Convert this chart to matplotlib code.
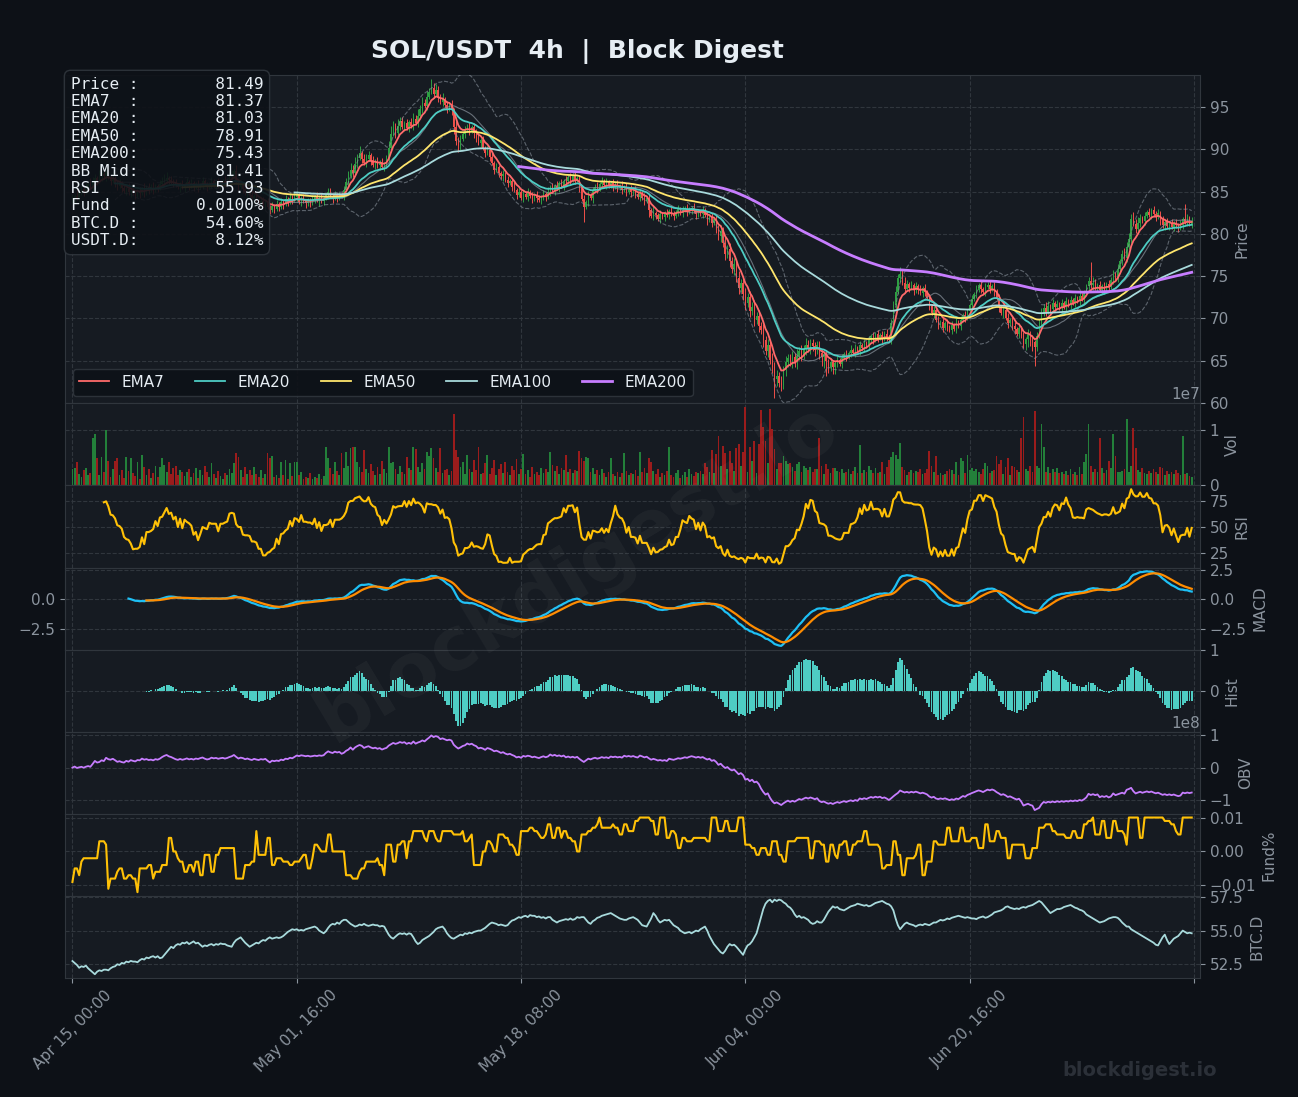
import numpy as np
import pandas as pd
import matplotlib
matplotlib.use("Agg")
import matplotlib.pyplot as plt
from matplotlib.lines import Line2D
from matplotlib.ticker import MultipleLocator

# SOL/USDT 4h candles from Apr 15
first_open = 83.9
close = [
    84.2, 84.5, 84.3, 84.9, 85.3, 85.0, 85.5, 85.9, 85.6, 86.2, 86.6, 86.3, 86.8, 87.1, 86.8, 87.3, 86.7, 86.3, 86.6, 86.0,
    85.7, 86.0, 85.4, 85.1, 85.3, 84.9, 85.1, 84.8, 84.6, 85.1, 84.8, 85.3, 84.9, 85.5, 85.2, 85.6, 85.2, 85.7, 85.4, 85.9,
    86.2, 86.3, 86.6, 86.4, 86.2, 86.0, 85.8, 85.5, 85.9, 85.5, 85.8, 86.1, 85.7, 86.0, 85.6, 85.9, 85.5, 85.8, 86.2, 85.9,
    85.6, 85.9, 86.2, 85.8, 86.1, 85.7, 86.0, 86.3, 86.0, 86.4, 86.7, 87.1, 87.4, 86.2, 85.6, 85.9, 85.3, 84.8, 85.1, 84.6,
    84.2, 84.5, 84.0, 83.6, 83.9, 83.4, 83.7, 83.2, 82.8, 83.3, 83.0, 83.5, 83.2, 83.8, 83.5, 84.1, 83.8, 84.3, 84.0, 84.4,
    84.6, 83.8, 84.2, 83.9, 83.6, 84.0, 83.7, 84.1, 84.4, 84.0, 84.3, 83.9, 84.2, 84.6, 84.9, 84.5, 84.2, 84.6, 84.3, 84.7,
    84.5, 85.2, 86.1, 86.9, 87.6, 87.2, 88.3, 89.0, 89.6, 88.9, 88.4, 88.9, 89.3, 88.7, 88.2, 88.6, 88.1, 88.5, 87.9, 88.3,
    88.8, 90.2, 91.8, 92.6, 91.9, 92.8, 93.3, 92.7, 93.1, 92.5, 93.2, 92.8, 93.6, 93.1, 94.0, 94.8, 95.5, 95.1, 96.2, 96.8,
    97.3, 96.6, 97.0, 96.1, 95.6, 95.9, 95.2, 94.8, 95.3, 94.6, 92.6, 91.0, 90.4, 91.2, 91.8, 92.3, 92.7, 92.2, 92.6, 91.9,
    91.4, 90.8, 91.1, 90.2, 89.6, 89.9, 89.1, 88.4, 87.6, 87.9, 87.2, 86.8, 87.1, 86.4, 86.0, 86.3, 85.6, 85.2, 84.6, 84.9,
    84.3, 84.7, 84.4, 84.9, 84.5, 84.1, 84.6, 84.3, 84.0, 84.3, 84.7, 84.4, 85.0, 85.5, 85.1, 85.7, 85.4, 86.0, 85.7, 86.3,
    86.2, 86.7, 86.4, 86.8, 86.4, 86.6, 85.4, 84.1, 83.2, 83.8, 84.6, 84.2, 85.1, 85.6, 85.3, 85.9, 86.2, 85.8, 86.1, 85.7,
    86.0, 85.6, 85.9, 85.4, 85.7, 85.2, 85.5, 85.0, 85.3, 84.9, 85.2, 84.7, 84.4, 84.8, 84.3, 83.9, 84.2, 82.8, 82.1, 82.5,
    82.2, 81.8, 82.3, 82.0, 82.5, 82.2, 82.7, 82.4, 82.1, 82.6, 82.9, 82.5, 82.8, 83.0, 82.6, 82.9, 83.1, 82.7, 82.3, 82.6,
    82.4, 82.8, 82.2, 81.6, 82.0, 81.3, 81.7, 80.6, 79.8, 80.3, 78.9, 77.6, 78.2, 76.8, 75.9, 76.4, 74.8, 73.6, 74.2, 72.9,
    71.8, 72.5, 70.9, 71.4, 69.8, 70.3, 69.1, 68.6, 67.4, 66.2, 66.8, 65.1, 64.3, 62.8, 63.2, 62.4, 62.1, 63.9, 64.8, 65.3,
    64.9, 65.4, 64.8, 65.6, 66.1, 65.7, 66.4, 66.9, 66.5, 67.1, 66.7, 66.3, 66.8, 65.9, 65.4, 65.8, 64.9, 64.3, 64.8, 64.2,
    64.7, 65.1, 64.6, 65.3, 65.8, 65.4, 65.9, 66.3, 65.9, 66.5, 66.2, 66.8, 66.5, 67.1, 66.8, 67.4, 67.9, 67.5, 68.1, 67.7,
    68.0, 67.6, 68.2, 67.8, 67.5, 69.4, 71.6, 73.1, 74.8, 75.3, 74.2, 73.5, 74.1, 73.6, 73.9, 73.3, 73.8, 73.4, 73.0, 73.6,
    73.1, 72.4, 71.5, 70.6, 71.0, 69.8, 69.2, 69.6, 68.9, 69.4, 69.0, 68.6, 69.2, 68.8, 69.5, 69.1, 69.8, 70.4, 70.1, 70.9,
    71.6, 72.3, 72.9, 73.4, 73.9, 73.5, 73.1, 73.7, 74.0, 73.5, 73.8, 73.2, 72.4, 71.3, 70.6, 71.0, 70.1, 69.4, 69.8, 69.1,
    68.7, 68.2, 68.9, 67.9, 67.0, 67.6, 68.2, 67.5, 67.2, 66.6, 67.9, 69.4, 70.5, 71.2, 70.8, 71.5, 71.1, 71.8, 71.4, 71.7,
    71.3, 71.8, 71.4, 72.0, 71.6, 72.2, 71.8, 72.4, 72.1, 72.7, 72.3, 72.9, 73.8, 74.4, 73.9, 74.2, 73.6, 73.9, 73.4, 73.8,
    73.5, 74.1, 73.7, 74.6, 75.2, 74.8, 75.9, 76.8, 77.6, 77.2, 78.5, 79.4, 81.8, 81.2, 80.6, 81.3, 81.9, 81.5, 82.1, 82.6,
    82.2, 82.8, 82.4, 82.0, 82.5, 81.6, 81.0, 81.4, 80.9, 81.2, 80.8, 81.3, 81.0, 80.7, 81.1, 81.8, 81.4, 81.9, 81.2, 81.49,
]
# wick above / below each candle body, one digit per candle, in quarters of a dollar
wick_up = (
    "21312121322131212131" "12121312112131212112" "23312121121212112121" "11211211212213121121"
    "21211212121212121212" "21121112121211221211" "12223232312221212121" "23432322121232323232"
    "42322312121322121212" "22121212121121211212" "12121212112121212121" "21212111212121212121"
    "12121212121212121213" "11211212112121211211" "12121212232323232323" "32323232323232323232"
    "23232323222222212121" "12121212121212121212" "12121223232321212121" "21212121212121212121"
    "12121212121212121212" "21212121212232321212" "12121212121212932121" "21212121232323232121"
    "21212121212121217212"
)
wick_dn = (
    "12121212121212121212" "21212121212121212121" "12121211212121212121" "21212121212121212121"
    "12122121212121212121" "21212121213121212121" "12121212121212121212" "21212121212121212121"
    "12121212123232121212" "21212121212121212121" "12121212121212121212" "21212121712121212121"
    "12121212121212121312" "21212121212121212121" "12121212232323232323" "32323232323239323232"
    "23232323232323457323" "32121212121212121212" "12121212121212121212" "21212121212121212121"
    "12121212121212121212" "21212343492121212121" "12121212121212121212" "21212121212121212121"
    "12121212121212121212"
)
# volume, millions
volume_m = [
    3.0, 3.2, 4.3, 2.0, 1.6, 2.8, 3.1, 1.9, 2.2, 8.6, 9.3, 5.0, 1.8, 5.2, 2.4, 10.0, 4.4, 1.5, 2.9, 4.4,
    4.9, 1.9, 2.8, 1.4, 5.2, 2.6, 4.9, 2.3, 1.7, 4.3, 1.1, 5.5, 3.4, 1.8, 2.9, 1.3, 2.2, 3.6, 1.6, 3.3,
    4.9, 3.7, 2.5, 4.3, 2.0, 3.2, 3.5, 1.9, 2.8, 2.5, 1.7, 2.5, 3.0, 1.6, 2.2, 3.1, 1.4, 2.7, 1.9, 3.6,
    2.4, 1.5, 4.0, 2.1, 1.3, 2.6, 1.7, 1.1, 2.2, 1.8, 3.0, 2.2, 4.0, 5.8, 5.1, 2.8, 1.5, 3.3, 2.1, 2.7,
    1.8, 3.4, 2.0, 1.5, 2.7, 1.3, 2.1, 5.8, 5.0, 5.4, 1.6, 1.9, 1.4, 4.3, 1.8, 4.6, 1.2, 4.0, 1.7, 4.3,
    4.3, 1.9, 2.5, 1.2, 1.6, 1.4, 2.2, 1.1, 1.5, 1.3, 2.0, 1.2, 1.7, 7.0, 4.9, 3.1, 2.0, 4.2, 2.6, 1.8,
    5.8, 3.1, 6.0, 3.6, 6.7, 7.0, 7.0, 4.2, 3.3, 2.5, 6.4, 3.0, 2.2, 3.8, 2.6, 1.9, 3.4, 2.1, 4.5, 2.9,
    2.2, 6.9, 4.0, 4.3, 2.9, 2.1, 3.5, 2.4, 2.0, 5.2, 3.1, 2.8, 7.0, 6.6, 3.4, 2.4, 4.1, 3.0, 6.1, 5.3,
    6.7, 5.0, 3.1, 2.5, 6.7, 2.2, 2.8, 3.0, 1.8, 2.6, 12.8, 6.4, 5.2, 3.4, 4.3, 2.1, 5.5, 3.0, 2.4, 4.6,
    2.8, 7.0, 2.0, 2.3, 4.0, 5.5, 2.1, 3.2, 4.6, 1.8, 2.9, 3.9, 2.2, 4.3, 2.5, 1.9, 3.6, 2.7, 4.8, 2.0,
    3.0, 5.6, 2.1, 2.8, 1.6, 3.3, 2.0, 2.5, 1.8, 3.1, 2.2, 2.9, 2.4, 6.0, 3.7, 2.6, 3.5, 2.0, 3.2, 2.7,
    5.5, 2.5, 3.0, 2.2, 2.8, 2.6, 6.2, 5.0, 4.4, 5.2, 4.9, 2.4, 3.1, 2.0, 2.7, 1.8, 2.9, 2.2, 1.6, 2.5,
    4.9, 2.0, 1.7, 2.4, 1.5, 2.2, 5.8, 2.6, 1.9, 2.3, 2.0, 2.8, 1.7, 6.0, 2.5, 3.1, 2.2, 5.0, 4.3, 2.6,
    2.1, 2.9, 1.6, 2.3, 1.8, 2.6, 7.0, 1.9, 1.5, 2.2, 2.7, 1.4, 1.8, 2.4, 1.6, 2.9, 2.0, 1.7, 2.5, 2.2,
    2.6, 2.0, 4.1, 3.4, 2.4, 6.4, 2.2, 5.6, 8.9, 3.5, 7.2, 5.9, 2.9, 6.3, 4.0, 2.6, 6.8, 7.4, 3.5, 6.0,
    14.1, 2.5, 7.0, 4.4, 8.0, 2.2, 7.5, 13.7, 10.5, 8.0, 4.0, 13.8, 10.2, 6.6, 2.9, 4.1, 4.0, 5.3, 4.4, 3.8,
    4.0, 3.4, 2.6, 3.9, 4.2, 2.5, 3.6, 3.1, 2.8, 3.3, 2.4, 2.9, 3.0, 8.5, 3.5, 2.1, 3.8, 3.0, 2.2, 3.1,
    3.2, 2.6, 2.4, 3.0, 2.2, 2.5, 2.9, 2.1, 2.6, 3.4, 2.3, 7.3, 2.2, 2.8, 2.4, 3.5, 2.7, 2.2, 3.1, 2.3,
    2.4, 4.3, 2.0, 3.4, 4.6, 5.2, 6.1, 5.5, 4.8, 7.6, 3.3, 2.8, 1.9, 2.5, 2.8, 2.2, 2.6, 2.4, 3.0, 2.1,
    2.2, 3.0, 6.3, 3.5, 2.5, 5.3, 1.8, 2.2, 1.8, 2.1, 2.6, 3.0, 2.7, 2.0, 4.2, 1.8, 5.0, 4.5, 2.3, 5.5,
    2.7, 3.2, 2.6, 3.0, 2.4, 2.1, 2.9, 4.0, 3.5, 2.2, 2.6, 2.8, 5.3, 3.9, 4.6, 2.1, 3.4, 5.0, 1.9, 3.6,
    3.3, 2.8, 2.4, 8.6, 12.3, 3.0, 2.6, 3.5, 2.4, 13.4, 3.5, 3.2, 11.0, 7.0, 2.5, 3.4, 2.2, 2.9, 2.4, 3.1,
    2.2, 2.4, 2.0, 2.6, 1.8, 3.0, 2.1, 2.5, 1.9, 3.3, 2.0, 4.2, 5.6, 11.0, 3.6, 2.5, 3.0, 2.4, 8.6, 3.2,
    2.3, 2.8, 4.5, 3.2, 9.2, 5.4, 2.5, 2.4, 2.6, 3.0, 11.9, 2.5, 3.5, 10.4, 6.8, 2.8, 2.4, 3.1, 2.2, 2.0,
    2.6, 2.2, 3.0, 2.5, 2.0, 3.4, 3.2, 1.9, 2.6, 2.1, 2.4, 2.0, 2.7, 2.2, 1.8, 9.0, 2.1, 2.3, 1.7, 1.6,
]
# funding rate, thousandths of a percent
funding_k = [
    -9, -5, -5, -7, -3, -2, -2, -2, -2, -2, -2, -2, 3, 3, 3, 2, -11, -8, -8, -8,
    -6, -5, -5, -8, -8, -7, -7, -8, -8, -12, -5, -5, -5, -5, -4, -4, -8, -6, -6, -6,
    -4, -4, -4, 4, 4, 0, 0, -2, -3, -3, -6, -6, -4, -4, -6, -3, -3, -7, -7, -1,
    -1, -1, -6, -6, -1, -1, 1, 1, 1, 1, 1, 1, 1, -8, -8, -8, -8, -4, -4, -4,
    -3, -3, 6, -1, -1, -1, -1, 4, 4, -4, -4, -2, -2, -2, -3, -3, -3, -4, -4, -3,
    -3, -3, -2, -1, -1, -5, -5, -2, 2, 2, 1, 0, 0, 0, 5, 5, 0, 0, 0, 0,
    0, 0, -7, -7, -7, -8, -8, -8, -6, -5, -5, -3, -3, -3, -3, -3, -2, -4, -4, -7,
    2, 2, 2, -3, -3, 2, 2, 3, 3, -2, 3, 3, 6, 6, 6, 6, 6, 4, 3, 6,
    6, 6, 4, 3, 3, 6, 6, 6, 6, 6, 5, 5, 5, 5, 6, 3, 3, 4, 5, -4,
    -4, -4, -4, 0, 0, 3, 3, 2, 0, 0, 5, 5, 5, 4, 4, 2, 2, 1, -1, -1,
    6, 6, 6, 6, 7, 7, 6, 6, 5, 4, 4, 5, 8, 8, 4, 4, 7, 7, 4, 6,
    6, 4, 4, 3, 3, 0, 0, 5, 5, 5, 6, 6, 7, 7, 8, 10, 7, 7, 7, 7,
    7, 8, 7, 7, 5, 5, 8, 8, 6, 6, 6, 9, 9, 10, 10, 10, 10, 10, 9, 9,
    5, 5, 10, 10, 10, 4, 4, 6, 6, 5, 1, 1, 4, 4, 3, 3, 3, 4, 4, 4,
    4, 4, 4, 3, 3, 10, 10, 10, 6, 6, 6, 9, 9, 6, 6, 6, 6, 10, 10, 10,
    2, 2, 2, 1, 1, -1, -1, 1, 1, 1, -1, -1, 3, 3, 3, -1, -1, -3, -3, 3,
    3, 3, 3, 4, 4, 4, 4, 4, 4, -2, -2, 3, 3, 3, 2, 2, -3, -3, 2, 2,
    -1, -2, 2, 2, 3, 3, -1, -1, 2, 2, 3, 3, 3, 6, 6, 2, 2, 2, 2, 2,
    1, -5, -5, -4, -4, -4, 3, 3, -1, -1, -7, -7, -2, -2, -2, -2, -1, 2, 2, -7,
    -7, -3, -3, -3, 3, 3, 2, 2, 2, 2, 7, 7, 3, 3, 3, 3, 7, 7, 3, 3,
    3, 4, 4, 4, 1, 1, 1, 8, 8, 3, 3, 3, 6, 6, 4, 4, 4, -2, -2, 2,
    2, 2, 2, 2, 2, -2, -2, -2, 1, 1, 1, 7, 7, 7, 8, 8, 8, 6, 6, 5,
    5, 5, 5, 4, 4, 4, 6, 6, 4, 4, 4, 8, 8, 9, 9, 10, 5, 5, 5, 9,
    9, 4, 4, 4, 9, 9, 6, 6, 6, 5, 2, 10, 10, 10, 10, 10, 4, 4, 10, 10,
    10, 10, 10, 10, 10, 10, 10, 9, 9, 9, 8, 8, 6, 5, 5, 10, 10, 10, 10, 10,
]
# BTC dominance, %
btc_dom = [
    52.74, 52.6, 52.45, 52.24, 52.35, 52.3, 52.4, 52.2, 52.05, 51.9, 51.76, 51.95, 52.05, 52.0, 52.1, 52.1, 52.05, 52.2, 52.3, 52.35,
    52.5, 52.45, 52.6, 52.55, 52.7, 52.65, 52.75, 52.7, 52.7, 52.65, 52.8, 52.9, 52.85, 53.0, 52.95, 53.05, 53.1, 53.0, 53.1, 52.95,
    53.0, 53.2, 53.4, 53.6, 53.8, 53.7, 53.9, 54.0, 53.95, 54.1, 54.05, 54.15, 54.0, 54.1, 54.2, 54.05, 54.1, 53.95, 53.8, 53.9,
    53.85, 53.95, 54.0, 53.9, 54.0, 53.95, 54.05, 54.0, 54.0, 53.9, 53.85, 53.8, 54.1, 54.3, 54.4, 54.5, 54.3, 54.1, 53.95, 53.8,
    53.9, 54.0, 54.1, 54.05, 54.2, 54.3, 54.25, 54.4, 54.5, 54.4, 54.45, 54.5, 54.45, 54.5, 54.6, 54.75, 54.9, 55.0, 55.1, 55.05,
    55.1, 55.0, 55.05, 55.0, 55.1, 55.15, 55.2, 55.25, 55.3, 55.2, 55.0, 54.9, 54.8, 54.95, 55.2, 55.4, 55.5, 55.45, 55.6, 55.5,
    55.7, 55.8, 55.8, 55.65, 55.5, 55.4, 55.3, 55.35, 55.45, 55.4, 55.5, 55.4, 55.35, 55.4, 55.45, 55.4, 55.4, 55.3, 55.35, 55.3,
    55.0, 54.7, 54.5, 54.4, 54.55, 54.7, 54.8, 54.75, 54.8, 54.7, 54.8, 54.75, 54.5, 54.2, 54.0, 54.1, 54.3, 54.4, 54.5, 54.6,
    54.75, 54.9, 55.1, 55.2, 55.25, 55.3, 55.1, 54.8, 54.6, 54.45, 54.4, 54.5, 54.6, 54.7, 54.65, 54.8, 54.75, 54.85, 54.8, 54.9,
    54.95, 55.0, 55.0, 55.1, 55.2, 55.35, 55.5, 55.6, 55.55, 55.5, 55.4, 55.45, 55.4, 55.35, 55.4, 55.6, 55.75, 55.8, 55.9, 56.0,
    55.95, 56.05, 56.1, 56.0, 56.15, 56.1, 56.1, 56.0, 56.05, 55.95, 56.0, 55.9, 56.0, 56.0, 55.8, 55.7, 55.6, 55.7, 55.75, 55.8,
    55.85, 55.8, 55.9, 55.8, 55.85, 56.0, 55.95, 56.0, 56.0, 55.8, 55.6, 55.5, 55.7, 55.8, 55.95, 56.0, 56.1, 56.15, 56.2, 56.25,
    56.3, 56.2, 56.1, 56.0, 55.9, 55.85, 55.8, 55.8, 55.9, 55.95, 56.0, 55.9, 55.8, 55.6, 55.4, 55.35, 55.3, 55.6, 55.9, 56.3,
    56.1, 55.8, 55.6, 55.7, 55.8, 55.75, 55.8, 55.6, 55.4, 55.3, 55.2, 55.0, 54.9, 54.8, 54.85, 54.9, 54.8, 54.9, 55.0, 54.95,
    55.1, 55.2, 55.3, 55.0, 54.6, 54.3, 54.0, 53.8, 53.6, 53.4, 53.3, 53.5, 53.8, 54.0, 53.9, 53.95, 53.8, 53.6, 53.4, 53.2,
    53.6, 53.9, 54.0, 54.2, 54.5, 54.8, 55.4, 56.0, 56.6, 57.0, 57.2, 57.3, 57.1, 57.3, 57.2, 57.3, 57.25, 57.1, 57.0, 56.8,
    56.7, 56.5, 56.2, 56.0, 56.1, 55.95, 56.0, 55.9, 55.8, 55.6, 55.5, 55.55, 55.7, 55.6, 55.6, 55.8, 56.1, 56.4, 56.6, 56.8,
    56.7, 56.75, 56.6, 56.55, 56.5, 56.6, 56.7, 56.8, 56.85, 56.9, 57.0, 56.95, 56.9, 56.85, 56.9, 56.8, 56.85, 56.95, 57.05, 57.1,
    57.15, 57.2, 57.1, 57.0, 56.95, 56.8, 56.5, 55.9, 55.4, 55.1, 55.3, 55.5, 55.6, 55.5, 55.45, 55.4, 55.3, 55.4, 55.45, 55.4,
    55.5, 55.45, 55.4, 55.5, 55.6, 55.6, 55.7, 55.8, 55.75, 55.8, 55.9, 55.85, 55.95, 56.0, 56.05, 56.1, 56.05, 56.0, 55.95, 56.0,
    55.95, 55.9, 55.9, 55.85, 55.95, 56.0, 56.05, 55.95, 56.0, 56.1, 56.2, 56.35, 56.4, 56.45, 56.5, 56.6, 56.75, 56.8, 56.7, 56.65,
    56.6, 56.65, 56.6, 56.7, 56.75, 56.7, 56.8, 56.85, 56.9, 57.0, 57.1, 57.2, 57.1, 56.9, 56.7, 56.5, 56.3, 56.4, 56.5, 56.6,
    56.6, 56.65, 56.75, 56.8, 56.85, 56.9, 56.8, 56.7, 56.65, 56.55, 56.5, 56.4, 56.2, 56.1, 56.0, 55.9, 55.8, 55.7, 55.6, 55.65,
    55.7, 55.8, 55.9, 55.95, 56.0, 56.0, 55.95, 55.8, 55.6, 55.45, 55.3, 55.3, 55.1, 55.0, 54.9, 54.8, 54.7, 54.6, 54.5, 54.4,
    54.3, 54.2, 54.1, 53.95, 53.9, 54.2, 54.5, 54.7, 54.3, 54.0, 54.2, 54.4, 54.5, 54.6, 54.8, 55.0, 54.9, 54.8, 54.85, 54.8,
]
# numbers shown in the info box
info_rows = [
    ("Price", "81.49"), ("EMA7", "81.37"), ("EMA20", "81.03"), ("EMA50", "78.91"),
    ("EMA200", "75.43"), ("BB Mid", "81.41"), ("RSI", "55.93"), ("Fund", "0.0100%"),
    ("BTC.D", "54.60%"), ("USDT.D", "8.12%"),
]

BG = "#0d1117"
PANEL = "#161b22"
GRID = "#30363d"
TXT = "#8b949e"
UP, DOWN = "#2ea043", "#f0504a"
VUP, VDOWN = "#23803a", "#9b1c1c"
EMA_COLORS = {7: "#ff6b6b", 20: "#4ecdc4", 50: "#ffe66d", 100: "#a8dadc", 200: "#c77dff"}

n = len(close)
idx = np.arange(n)
c = pd.Series(close)
o = c.shift(1).fillna(first_open)
hi = np.maximum(o, c) + np.array([int(ch) for ch in wick_up]) * 0.25
lo = np.minimum(o, c) - np.array([int(ch) for ch in wick_dn]) * 0.25
vol = pd.Series(volume_m) * 1e6
fund = np.array(funding_k) / 1000
dates = pd.date_range("2025-04-15", periods=n, freq="4h")

# indicators
ema = {k: c.ewm(span=k, adjust=False, min_periods=k).mean() for k in EMA_COLORS}
bb_mid = c.rolling(20).mean()
bb_sd = c.rolling(20).std()
delta = c.diff()
gain = delta.clip(lower=0).rolling(14).mean()
loss = (-delta.clip(upper=0)).rolling(14).mean()
rsi = 100 - 100 / (1 + gain / loss)
macd = c.ewm(span=12, adjust=False, min_periods=12).mean() - c.ewm(span=26, adjust=False, min_periods=26).mean()
signal = macd.ewm(span=9, adjust=False, min_periods=9).mean()
hist = macd - signal
obv = (np.sign(delta).fillna(0) * vol).cumsum()

fig = plt.figure(figsize=(12.98, 10.97), dpi=100, facecolor=BG)
gs = fig.add_gridspec(8, 1, height_ratios=[4, 1, 1, 1, 1, 1, 1, 1], hspace=0,
                      left=0.0501, right=0.9245, top=0.9316, bottom=0.1085)
axes = [fig.add_subplot(gs[0])]
for k in range(1, 8):
    axes.append(fig.add_subplot(gs[k], sharex=axes[0]))
ax_p, ax_v, ax_r, ax_m, ax_h, ax_o, ax_f, ax_b = axes

for ax in axes:
    ax.set_facecolor(PANEL)
    ax.grid(True, color=GRID, ls="--", lw=0.8)
    ax.set_axisbelow(True)
    ax.yaxis.tick_right()
    ax.yaxis.set_label_position("right")
    ax.tick_params(colors=TXT, labelsize=11)
    ax.yaxis.get_offset_text().set_color(TXT)
    ax.yaxis.get_offset_text().set_fontsize(11)
    for s in ax.spines.values():
        s.set_color(GRID)
for ax in axes[:-1]:
    ax.tick_params(axis="x", labelbottom=False, length=0)

# price
col = np.where(c >= o, UP, DOWN)
ax_p.vlines(idx, lo, hi, colors=col, lw=0.7, zorder=2)
ax_p.bar(idx, (c - o).abs().clip(lower=0.03), bottom=np.minimum(o, c), width=0.6, color=col, zorder=2)
ax_p.plot(idx, bb_mid + 2 * bb_sd, color=TXT, ls="--", lw=0.8, alpha=0.6, zorder=3)
ax_p.plot(idx, bb_mid - 2 * bb_sd, color=TXT, ls="--", lw=0.8, alpha=0.6, zorder=3)
ax_p.plot(idx, bb_mid, color=TXT, lw=0.8, alpha=0.7, zorder=3)
handles = []
for k, colr in EMA_COLORS.items():
    lw = 2.0 if k == 200 else 1.3
    ax_p.plot(idx, ema[k], color=colr, lw=lw, zorder=4)
    handles.append(Line2D([], [], color=colr, lw=lw, label=f"EMA{k}"))
ax_p.set_ylim(lo.min() * 0.99, hi.max() * 1.005)
ax_p.yaxis.set_major_locator(MultipleLocator(5))
ax_p.set_ylabel("Price", color=TXT, fontsize=11)
leg = ax_p.legend(handles=handles, loc="lower left", ncol=5, fontsize=11,
                  facecolor=BG, edgecolor=GRID, framealpha=0.9)
for t in leg.get_texts():
    t.set_color("#e6edf3")
info = "\n".join(f"{lab:<6}:{val:>13}" for lab, val in info_rows)
ax_p.text(0.005, 0.995, info, transform=ax_p.transAxes, va="top", ha="left",
          family="DejaVu Sans Mono", fontsize=11.5, color="#e6edf3", linespacing=1.2,
          bbox=dict(boxstyle="round,pad=0.4", fc=BG, ec=GRID, alpha=0.9), zorder=10)

# volume
ax_v.bar(idx, vol, width=0.8, color=np.where(c >= o, VUP, VDOWN))
ax_v.yaxis.set_major_locator(MultipleLocator(1e7))
ax_v.set_ylabel("Vol", color=TXT, fontsize=11)

# rsi
ax_r.plot(idx, rsi, color="#ffc107", lw=1.5)
ax_r.yaxis.set_major_locator(MultipleLocator(25))
ax_r.set_ylabel("RSI", color=TXT, fontsize=11)

# macd
ax_m.plot(idx, macd, color="#1ec0f5", lw=1.6)
ax_m.plot(idx, signal, color="#ff8c00", lw=1.6)
ax_m.yaxis.set_major_locator(MultipleLocator(2.5))
ax_m.set_ylabel("MACD", color=TXT, fontsize=11)
sec = ax_m.secondary_yaxis("left")
sec.set_yticks([-2.5, 0.0])
sec.tick_params(colors=TXT, labelsize=11)
sec.spines["left"].set_color(GRID)

# histogram
ax_h.bar(idx, hist, width=0.8, color="#4ecdc4")
ax_h.yaxis.set_major_locator(MultipleLocator(1))
ax_h.set_ylim(-0.99, 1.01)
ax_h.set_ylabel("Hist", color=TXT, fontsize=11)

# obv
ax_o.plot(idx, obv, color="#c77dff", lw=1.3)
ax_o.yaxis.set_major_locator(MultipleLocator(1e8))
ax_o.set_ylabel("OBV", color=TXT, fontsize=11)

# funding
ax_f.plot(idx, fund, color="#ffc107", lw=1.5)
ax_f.yaxis.set_major_locator(MultipleLocator(0.01))
ax_f.set_ylabel("Fund%", color=TXT, fontsize=11)

# btc dominance
ax_b.plot(idx, btc_dom, color="#a8dadc", lw=1.3)
ax_b.yaxis.set_major_locator(MultipleLocator(2.5))
ax_b.set_ylabel("BTC.D", color=TXT, fontsize=11)

ticks = list(range(0, n + 1, 100))
labels = [dates[i].strftime("%b %d, %H:%M") if i < n else "" for i in ticks]
ax_b.set_xticks(ticks)
ax_b.set_xticklabels(labels, rotation=45)
ax_b.set_xlim(-3.3, 502.7)

fig.text(0.4445, 0.9526, "SOL/USDT  4h  |  Block Digest", ha="center", va="center",
         fontsize=18, fontweight="bold", color="#e6edf3")
fig.text(0.445, 0.478, "blockdigest.io", rotation=31, ha="center", va="center",
         fontsize=54, fontweight="bold", color="white", alpha=0.04)
fig.text(0.878, 0.0245, "blockdigest.io", ha="center", va="center",
         fontsize=14, fontweight="bold", color="#2b3038")

fig.savefig("out.png", dpi=100, facecolor=BG)
